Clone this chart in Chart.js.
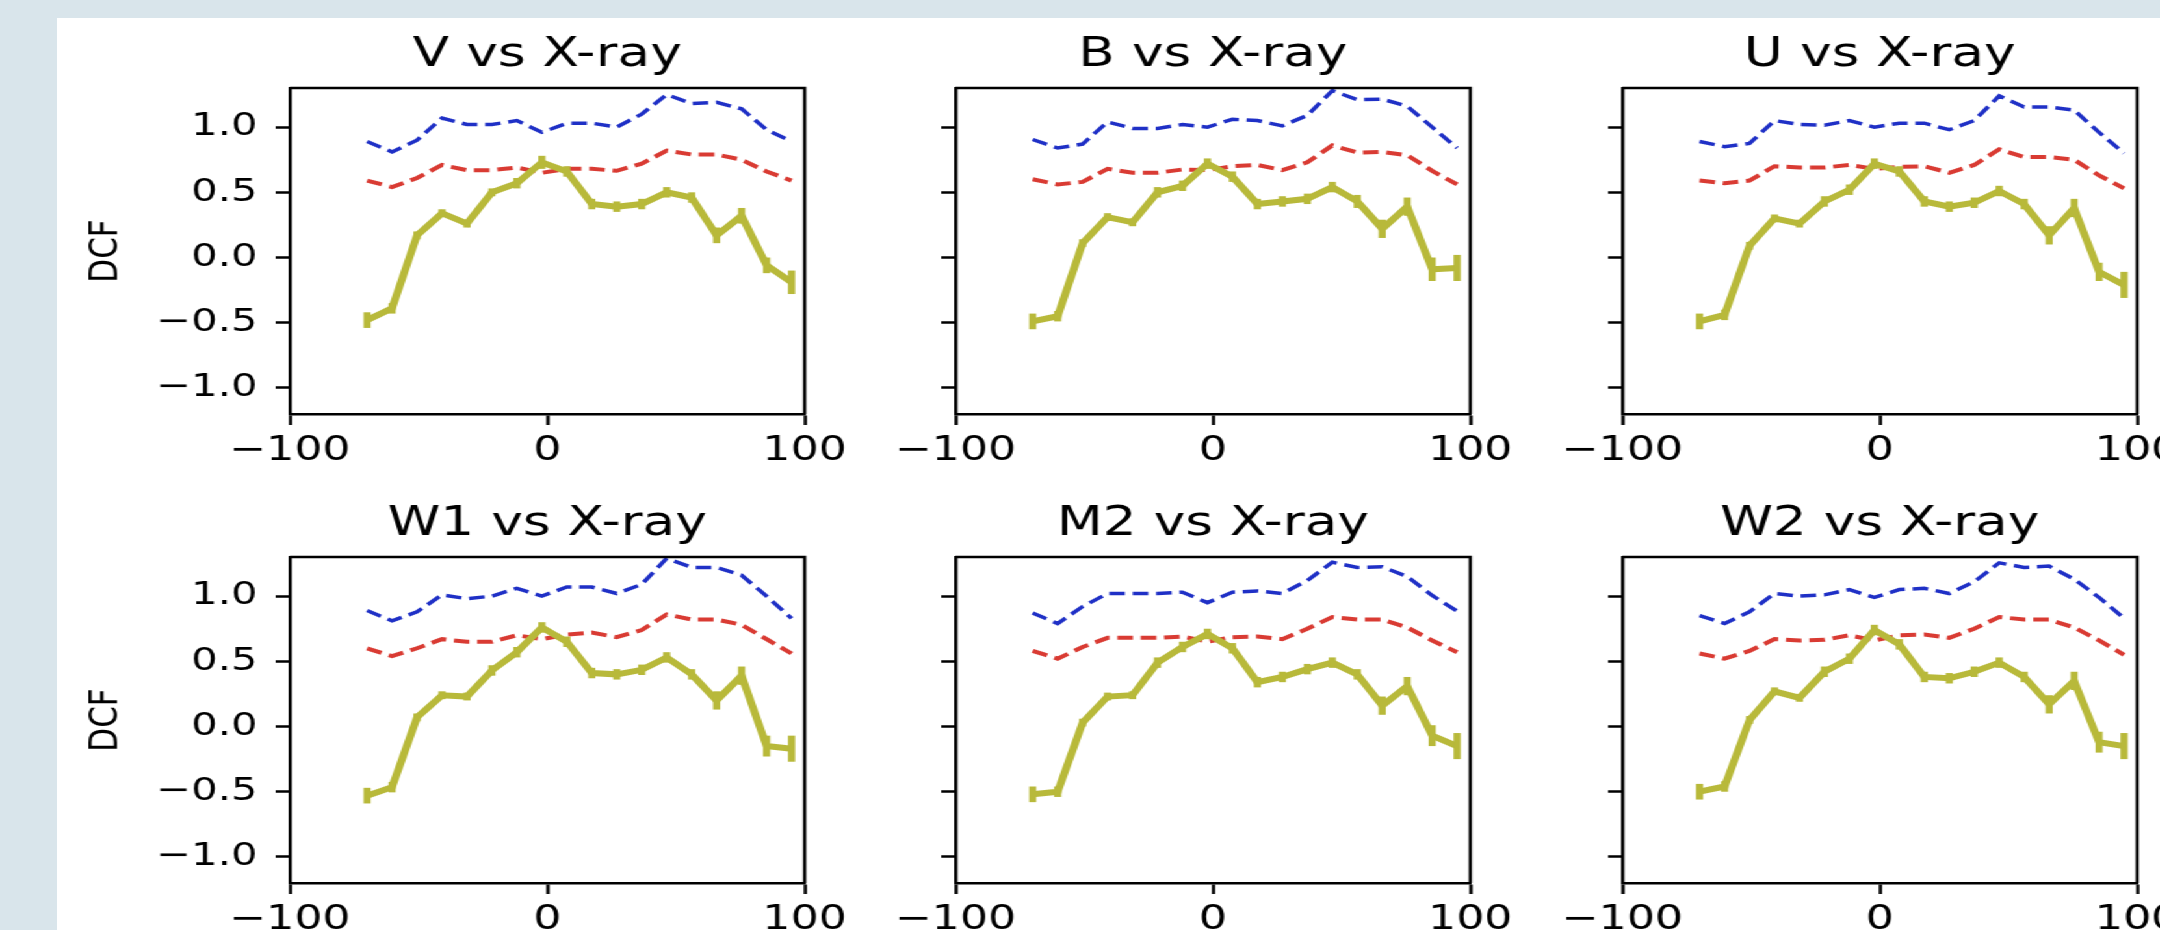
<!DOCTYPE html>
<html>
<head>
<meta charset="utf-8">
<title>DCF vs X-ray</title>
<script src="https://cdn.jsdelivr.net/npm/chart.js@4.4.1/dist/chart.umd.min.js"></script>
<style>
  html, body { margin: 0; padding: 0; width: 2160px; height: 930px; overflow: hidden; background: #d9e5eb; }
  #sheet { position: absolute; left: 57px; top: 18px; right: 0; bottom: 0; background: #fff; }
  /* the reference figure is stretched horizontally, so the whole stage is too */
  #stage { position: absolute; left: 0; top: 0; width: 1700px; height: 930px; transform-origin: 0 0; transform: scaleX(1.3); }
  .panel { position: absolute; }
</style>
</head>
<body>
<div id="sheet"></div>
<div id="stage"></div>
<script>
// Lag bins (days)
const lags = [-70, -60.3, -50.6, -40.9, -31.2, -21.5, -11.8, -2.1, 7.6, 17.3, 27.0, 36.7, 46.4, 56.1, 65.8, 75.5, 85.2, 94.9];

// V vs X-ray
const vDcf   = [-0.48, -0.39, 0.17, 0.34, 0.26, 0.50, 0.57, 0.73, 0.66, 0.41, 0.39, 0.41, 0.50, 0.46, 0.17, 0.32, -0.06, -0.19];
const vErr   = [0.06, 0.04, 0.03, 0.03, 0.03, 0.03, 0.04, 0.05, 0.04, 0.04, 0.04, 0.04, 0.04, 0.04, 0.06, 0.06, 0.06, 0.09];
const vSig99 = [0.89, 0.81, 0.90, 1.07, 1.02, 1.02, 1.05, 0.96, 1.03, 1.03, 1.00, 1.10, 1.25, 1.18, 1.19, 1.14, 0.98, 0.89];
const vSig95 = [0.59, 0.54, 0.61, 0.71, 0.67, 0.67, 0.69, 0.65, 0.68, 0.68, 0.665, 0.72, 0.82, 0.79, 0.79, 0.75, 0.66, 0.59];

// B vs X-ray
const bDcf   = [-0.49, -0.45, 0.11, 0.31, 0.27, 0.50, 0.55, 0.72, 0.62, 0.41, 0.43, 0.45, 0.54, 0.43, 0.22, 0.39, -0.09, -0.08];
const bErr   = [0.06, 0.04, 0.03, 0.03, 0.03, 0.04, 0.04, 0.04, 0.04, 0.04, 0.04, 0.04, 0.04, 0.05, 0.07, 0.07, 0.09, 0.10];
const bSig99 = [0.905, 0.84, 0.87, 1.04, 0.99, 0.99, 1.02, 1.00, 1.06, 1.05, 1.01, 1.09, 1.28, 1.21, 1.215, 1.16, 1.00, 0.84];
const bSig95 = [0.60, 0.56, 0.58, 0.68, 0.65, 0.65, 0.675, 0.67, 0.70, 0.71, 0.67, 0.73, 0.86, 0.805, 0.81, 0.785, 0.665, 0.56];

// U vs X-ray
const uDcf   = [-0.49, -0.44, 0.09, 0.30, 0.26, 0.43, 0.52, 0.72, 0.66, 0.43, 0.39, 0.42, 0.51, 0.41, 0.17, 0.38, -0.11, -0.21];
const uErr   = [0.06, 0.04, 0.03, 0.03, 0.03, 0.04, 0.04, 0.04, 0.04, 0.04, 0.04, 0.04, 0.04, 0.04, 0.07, 0.07, 0.07, 0.10];
const uSig99 = [0.89, 0.85, 0.875, 1.05, 1.02, 1.015, 1.05, 1.00, 1.03, 1.03, 0.98, 1.05, 1.24, 1.155, 1.155, 1.13, 0.96, 0.80];
const uSig95 = [0.59, 0.57, 0.59, 0.70, 0.69, 0.69, 0.71, 0.68, 0.695, 0.70, 0.65, 0.71, 0.83, 0.77, 0.77, 0.75, 0.63, 0.53];

// W1 vs X-ray
const w1Dcf   = [-0.53, -0.465, 0.07, 0.24, 0.23, 0.43, 0.57, 0.76, 0.65, 0.41, 0.40, 0.435, 0.53, 0.40, 0.20, 0.39, -0.15, -0.17];
const w1Err   = [0.06, 0.04, 0.03, 0.03, 0.03, 0.04, 0.04, 0.04, 0.04, 0.04, 0.04, 0.04, 0.04, 0.04, 0.07, 0.07, 0.08, 0.10];
const w1Sig99 = [0.89, 0.81, 0.88, 1.01, 0.98, 1.00, 1.06, 1.00, 1.07, 1.07, 1.02, 1.09, 1.29, 1.22, 1.22, 1.16, 1.00, 0.83];
const w1Sig95 = [0.60, 0.54, 0.60, 0.67, 0.65, 0.65, 0.70, 0.67, 0.705, 0.72, 0.685, 0.74, 0.86, 0.82, 0.82, 0.78, 0.67, 0.56];

// M2 vs X-ray
const m2Dcf   = [-0.52, -0.50, 0.03, 0.23, 0.24, 0.49, 0.61, 0.71, 0.60, 0.34, 0.38, 0.44, 0.49, 0.40, 0.16, 0.31, -0.07, -0.15];
const m2Err   = [0.06, 0.04, 0.03, 0.03, 0.03, 0.04, 0.04, 0.04, 0.04, 0.04, 0.04, 0.04, 0.04, 0.04, 0.07, 0.07, 0.08, 0.10];
const m2Sig99 = [0.87, 0.79, 0.92, 1.02, 1.02, 1.02, 1.03, 0.95, 1.03, 1.04, 1.02, 1.12, 1.26, 1.22, 1.225, 1.15, 1.005, 0.885];
const m2Sig95 = [0.58, 0.52, 0.61, 0.68, 0.68, 0.68, 0.69, 0.65, 0.685, 0.69, 0.67, 0.75, 0.84, 0.82, 0.82, 0.76, 0.66, 0.57];

// W2 vs X-ray
const w2Dcf   = [-0.50, -0.46, 0.05, 0.27, 0.22, 0.42, 0.52, 0.74, 0.63, 0.38, 0.37, 0.42, 0.49, 0.38, 0.17, 0.35, -0.12, -0.15];
const w2Err   = [0.06, 0.04, 0.03, 0.03, 0.03, 0.04, 0.04, 0.04, 0.04, 0.04, 0.04, 0.04, 0.04, 0.04, 0.07, 0.07, 0.08, 0.10];
const w2Sig99 = [0.85, 0.79, 0.88, 1.02, 1.00, 1.01, 1.05, 0.99, 1.05, 1.06, 1.02, 1.11, 1.255, 1.22, 1.23, 1.13, 0.99, 0.83];
const w2Sig95 = [0.56, 0.52, 0.58, 0.67, 0.66, 0.665, 0.70, 0.66, 0.70, 0.705, 0.68, 0.75, 0.84, 0.82, 0.82, 0.76, 0.66, 0.55];

// Axes
const xTicks = [-100, 0, 100];
const xTickLabels = ['\u2212100', '0', '100'];
const yTicks = [-1.0, -0.5, 0.0, 0.5, 1.0];
const yTickLabels = ['\u22121.0', '\u22120.5', '0.0', '0.5', '1.0'];

const panels = [
    { title: 'V vs X-ray',  dcf: vDcf,  err: vErr,  sig99: vSig99,  sig95: vSig95 },
    { title: 'B vs X-ray',  dcf: bDcf,  err: bErr,  sig99: bSig99,  sig95: bSig95 },
    { title: 'U vs X-ray',  dcf: uDcf,  err: uErr,  sig99: uSig99,  sig95: uSig95 },
    { title: 'W1 vs X-ray', dcf: w1Dcf, err: w1Err, sig99: w1Sig99, sig95: w1Sig95 },
    { title: 'M2 vs X-ray', dcf: m2Dcf, err: m2Err, sig99: m2Sig99, sig95: m2Sig95 },
    { title: 'W2 vs X-ray', dcf: w2Dcf, err: w2Err, sig99: w2Sig99, sig95: w2Sig95 }
];

// Layout (page px; horizontal values are divided by the stretch)
const stretch = 1.3;
const colLeft = [290, 956, 1622];
const rowTop = [88, 557];
const plotW = 396;
const plotH = 326;
const titleH = 57;
const xAxisH = 60;

const OLIVE = '#b8b93a';
const RED = '#d93b33';
const BLUE = '#1f30c6';

Chart.defaults.font.family = "'DejaVu Sans', sans-serif";
Chart.defaults.color = '#000';

// vertical error bars on the DCF series
const errorBars = {
    id: 'errorBars',
    afterDatasetsDraw(chart, args, opts) {
        const { ctx, scales: { x, y } } = chart;
        ctx.save();
        ctx.strokeStyle = OLIVE;
        ctx.lineWidth = 5.5;
        opts.values.forEach((v, i) => {
            const px = x.getPixelForValue(lags[i]);
            ctx.beginPath();
            ctx.moveTo(px, y.getPixelForValue(v - opts.errors[i]));
            ctx.lineTo(px, y.getPixelForValue(v + opts.errors[i]));
            ctx.stroke();
        });
        ctx.restore();
    }
};

// top and right sides of the axes box
const frameBox = {
    id: 'frameBox',
    afterDraw(chart) {
        const { ctx, chartArea: a } = chart;
        ctx.save();
        ctx.strokeStyle = '#000';
        ctx.lineWidth = 2.5;
        ctx.beginPath();
        ctx.moveTo(a.left, a.top);
        ctx.lineTo(a.right, a.top);
        ctx.lineTo(a.right, a.bottom);
        ctx.stroke();
        ctx.restore();
    }
};

const stage = document.getElementById('stage');

panels.forEach((p, idx) => {
    const col = idx % 3;
    const row = Math.floor(idx / 3);
    const firstCol = col === 0;
    const yAxisW = firstCol ? 160 : 60;
    const padRight = 40;

    const box = document.createElement('div');
    box.className = 'panel';
    box.style.left = (colLeft[col] / stretch - yAxisW) + 'px';
    box.style.top = (rowTop[row] - titleH) + 'px';
    box.style.width = (yAxisW + plotW + padRight) + 'px';
    box.style.height = (titleH + plotH + xAxisH) + 'px';
    const canvas = document.createElement('canvas');
    box.appendChild(canvas);
    stage.appendChild(box);

    const toPts = vals => vals.map((v, i) => ({ x: lags[i], y: v }));

    new Chart(canvas, {
        type: 'line',
        data: {
            datasets: [
                { data: toPts(p.dcf), borderColor: OLIVE, borderWidth: 6, pointRadius: 0, order: 0 },
                { data: toPts(p.sig95), borderColor: RED, borderWidth: 4, borderDash: [12, 6], pointRadius: 0, order: 1 },
                { data: toPts(p.sig99), borderColor: BLUE, borderWidth: 3.5, borderDash: [12, 6], pointRadius: 0, order: 2 }
            ]
        },
        options: {
            responsive: true,
            maintainAspectRatio: false,
            animation: false,
            events: [],
            layout: { padding: { left: 0, right: padRight, top: 0, bottom: 0 } },
            plugins: {
                legend: { display: false },
                tooltip: { enabled: false },
                title: {
                    display: true,
                    text: p.title,
                    fullSize: false,
                    color: '#000',
                    font: { size: 41, weight: 'normal', lineHeight: '49px' },
                    padding: { top: 0, bottom: 8 }
                },
                errorBars: { values: p.dcf, errors: p.err }
            },
            scales: {
                x: {
                    type: 'linear',
                    min: -100,
                    max: 100,
                    afterBuildTicks: s => { s.ticks = xTicks.map(v => ({ value: v })); },
                    afterFit: s => { s.height = xAxisH; },
                    grid: { drawOnChartArea: false, drawTicks: true, tickLength: 11, tickWidth: 2.5, tickColor: '#000' },
                    border: { display: true, color: '#000', width: 2.5 },
                    ticks: {
                        autoSkip: false,
                        maxRotation: 0,
                        padding: 6,
                        font: { size: 34 },
                        callback: (v, i) => xTickLabels[i]
                    }
                },
                y: {
                    type: 'linear',
                    min: -1.2,
                    max: 1.3,
                    afterBuildTicks: s => { s.ticks = yTicks.map(v => ({ value: v })); },
                    afterFit: s => { s.width = yAxisW; },
                    grid: { drawOnChartArea: false, drawTicks: true, tickLength: 11, tickWidth: 2.5, tickColor: '#000' },
                    border: { display: true, color: '#000', width: 2.5 },
                    ticks: {
                        autoSkip: false,
                        padding: 14,
                        font: { size: 32 },
                        callback: (v, i) => firstCol ? yTickLabels[i] : ''
                    },
                    title: {
                        display: firstCol,
                        text: 'DCF',
                        color: '#000',
                        padding: 0,
                        font: { size: 31 }
                    }
                }
            }
        },
        plugins: [errorBars, frameBox]
    });
});
</script>
</body>
</html>
